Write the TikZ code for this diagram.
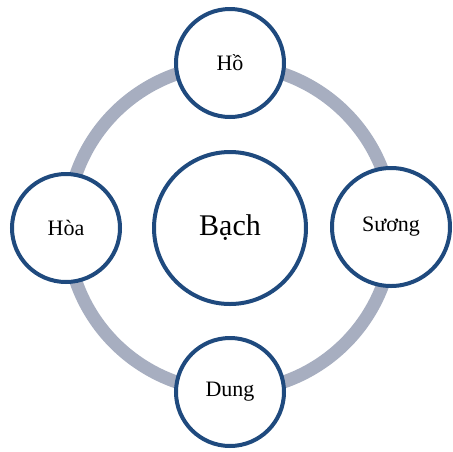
\documentclass[tikz,border=0pt]{standalone}
\usepackage{fontspec}
\setmainfont{Liberation Serif}
\definecolor{ringgray}{HTML}{A7AEC0}
\definecolor{rimblue}{HTML}{1F4A7E}
\begin{document}
\begin{tikzpicture}[x=1pt,y=-1pt,
  orb/.style={circle,draw=rimblue,line width=4pt,fill=white,inner sep=0pt,minimum size=#1},
  ringline/.style={draw=ringgray,line width=13pt}]
\useasboundingbox (0,0) rectangle (453,451);
\coordinate (mid) at (230,228);
\draw[ringline] (mid) circle[radius=163];
\node[orb=152pt,font=\fontsize{30}{32}\selectfont] (bach) at (230,228) {Bạch};
\node[orb=108pt,font=\fontsize{22}{24}\selectfont] (ho) at (230,63) {Hồ};
\node[orb=108pt,font=\fontsize{22}{24}\selectfont] (hoa) at (66,228) {Hòa};
\node[orb=118pt,font=\fontsize{22}{24}\selectfont] (suong) at (391,227) {Sương};
\node[orb=108pt,font=\fontsize{22}{24}\selectfont] (dung) at (230,392) {Dung};
\end{tikzpicture}
\end{document}
